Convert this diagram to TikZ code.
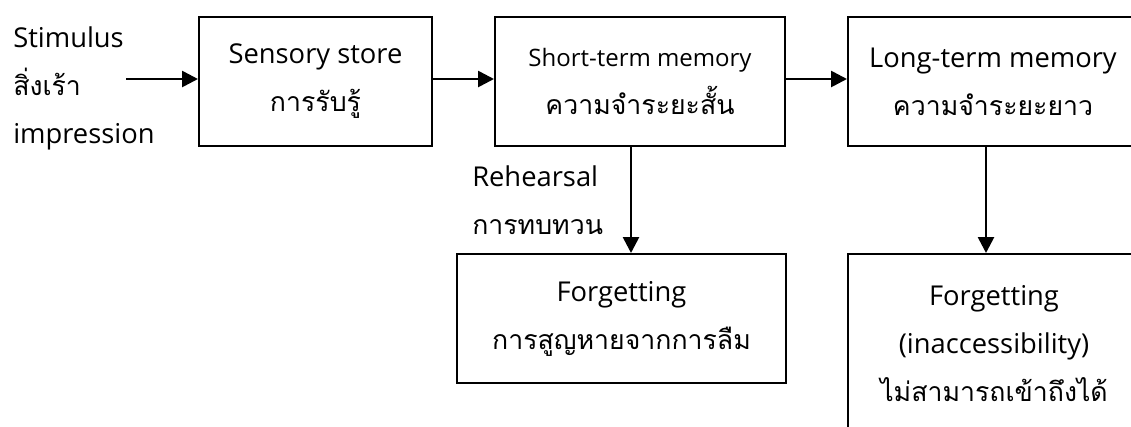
\documentclass[tikz,border=0pt]{standalone}
\usepackage{fontspec}
\setmainfont{Open Sans}
\newfontfamily\thaifont[Script=Thai]{Loma}
\usetikzlibrary{arrows.meta}
\newcommand{\thaitxt}[1]{{\thaifont\fontsize{20}{36}\selectfont #1}}
\tikzstyle{box}=[draw=black, line width=1.5pt, align=center, inner sep=0pt, font=\fontsize{20.5}{36}\selectfont]
\tikzstyle{txt}=[align=left, inner sep=0pt, font=\fontsize{20.5}{36}\selectfont]
\tikzstyle{arrow}=[draw=black, line width=2pt, -{Triangle[length=12pt, width=12pt]}]

\begin{document}
\begin{tikzpicture}[x=0.75pt, y=-0.75pt]
	\clip (0,0) rectangle (1131,426);
	\node[txt, anchor=west] (stim) at (13,88) {Stimulus\\\thaitxt{สิ่งเร้า}\\impression};
	\coordinate (in) at (126,79);
	\node[box, minimum width=174.75pt, minimum height=96.75pt] (sens) at (315.5,81.5) {Sensory store\\\thaitxt{การรับรู้}};
	\node[box, minimum width=217.5pt, minimum height=96.75pt] (stm) at (640,81.5) {{\fontsize{18}{36}\selectfont Short-term memory}\\\thaitxt{ความจำระยะสั้น}};
	\node[box, minimum width=217.5pt, minimum height=96.75pt] (ltm) at (993,81.5) {Long-term memory\\\thaitxt{ความจำระยะยาว}};
	\node[txt, anchor=west] (reh) at (472,200) {Rehearsal\\\thaitxt{การทบทวน}};
	\node[box, minimum width=246.75pt, minimum height=96.75pt] (f1) at (621.5,318.5) {Forgetting\\\thaitxt{การสูญหายจากการลืม}};
	\node[box, minimum width=219pt, minimum height=135pt] (f2) at (994,344) {Forgetting\\(inaccessibility)\\\thaitxt{ไม่สามารถเข้าถึงได้}};

	\draw[arrow] (in) -- (in -| sens.west);
	\draw[arrow] (sens.east |- in) -- (stm.west |- in);
	\draw[arrow] (stm.east |- in) -- (ltm.west |- in);
	\draw[arrow] ([xshift=-6.75pt]stm.south) -- ([xshift=-6.75pt]stm.south |- f1.north);
	\draw[arrow] ([xshift=-5.25pt]ltm.south) -- ([xshift=-5.25pt]ltm.south |- f2.north);
\end{tikzpicture}
\end{document}
